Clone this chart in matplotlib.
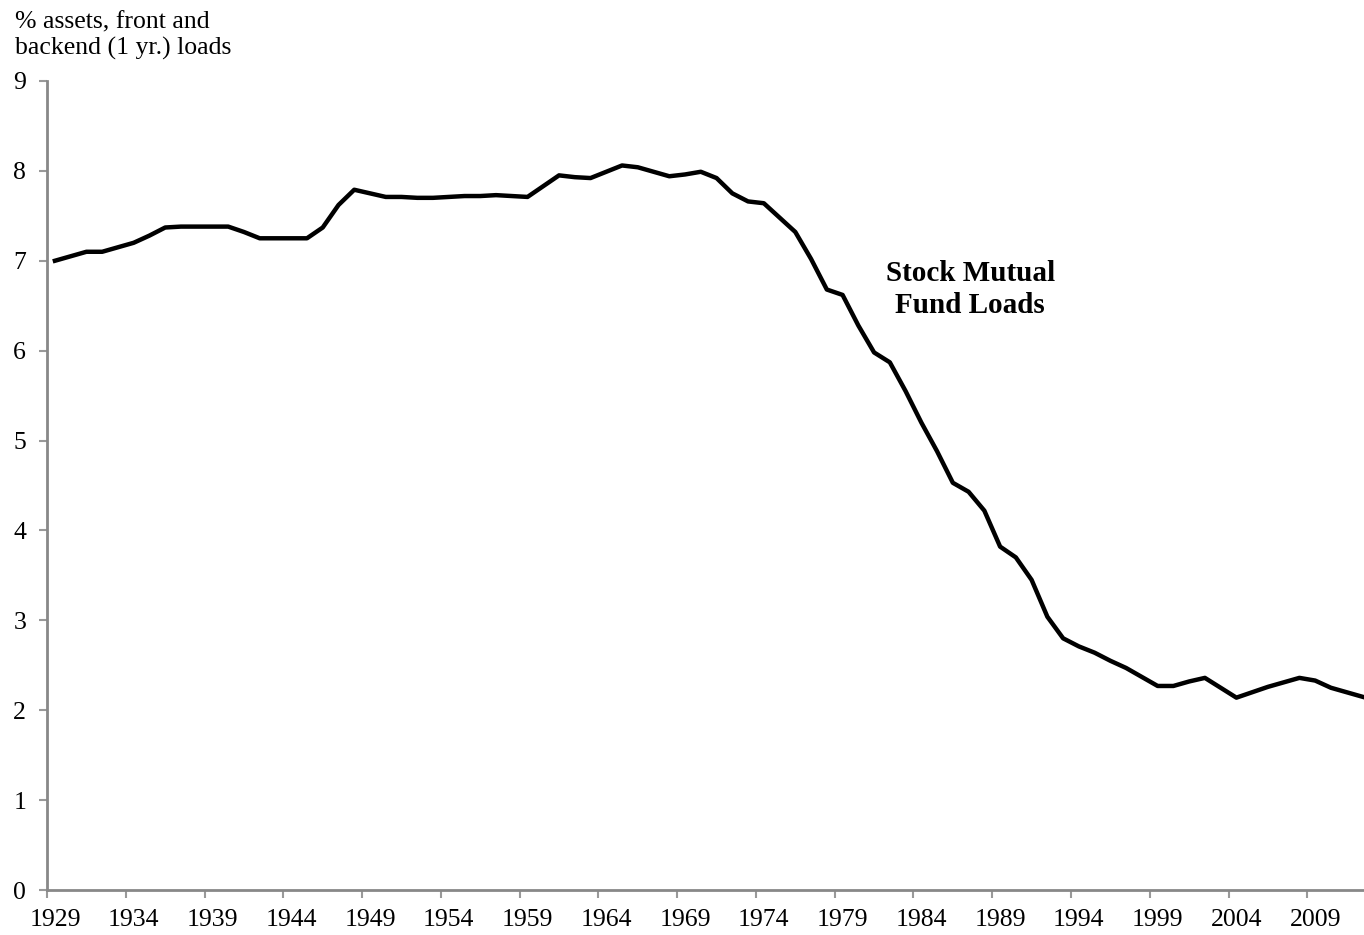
import matplotlib.pyplot as plt
import numpy as np

plt.rcParams["font.family"] = ["Liberation Serif", "DejaVu Serif"]

years = np.arange(1929, 2013)
loads = [
    7.00, 7.05, 7.10, 7.10, 7.15, 7.20, 7.28, 7.37, 7.38, 7.38,  # 1929-1938
    7.38, 7.38, 7.32, 7.25, 7.25, 7.25, 7.25, 7.37, 7.62, 7.79,  # 1939-1948
    7.75, 7.71, 7.71, 7.70, 7.70, 7.71, 7.72, 7.72, 7.73, 7.72,  # 1949-1958
    7.71, 7.83, 7.95, 7.93, 7.92, 7.99, 8.06, 8.04, 7.99, 7.94,  # 1959-1968
    7.96, 7.99, 7.92, 7.75, 7.66, 7.64, 7.48, 7.32, 7.02, 6.68,  # 1969-1978
    6.62, 6.28, 5.98, 5.87, 5.55, 5.20, 4.88, 4.53, 4.43, 4.22,  # 1979-1988
    3.82, 3.70, 3.45, 3.04, 2.80, 2.71, 2.64, 2.55, 2.47, 2.37,  # 1989-1998
    2.27, 2.27, 2.32, 2.36, 2.25, 2.14, 2.20, 2.26, 2.31, 2.36,  # 1999-2008
    2.33, 2.25, 2.20, 2.15,                                      # 2009-2012
]
tick_years = np.arange(1929, 2013, 5)
y_ticks = np.arange(0, 10)

fig = plt.figure(figsize=(13.64, 9.35), dpi=100)
ax = fig.add_axes([0.0345, 0.0481, 0.9655, 0.8653])

ax.plot(years, loads, color="black", linewidth=3.2, solid_joinstyle="round")

ax.set_xlim(1928.5, 2012.1)
ax.set_ylim(0, 9)

# category-style axis: tick marks between years, labels under the year
ax.set_xticks(tick_years - 0.5)
ax.set_xticklabels([])
ax.set_xticks(tick_years, minor=True)
ax.set_xticklabels([str(y) for y in tick_years], minor=True, fontsize=18.5)
ax.tick_params(axis="x", which="major", length=6, width=1.5, color="#999999")
ax.tick_params(axis="x", which="minor", length=0, pad=14)

ax.set_yticks(y_ticks)
ax.set_yticklabels([str(v) for v in y_ticks], fontsize=18.5)
ax.tick_params(axis="y", length=6, width=1.5, color="#999999", pad=9)

for side in ["top", "right"]:
    ax.spines[side].set_visible(False)
for side in ["left", "bottom"]:
    ax.spines[side].set_color("#888888")
    ax.spines[side].set_linewidth(2)

fig.text(0.011, 0.988, "% assets, front and\nbackend (1 yr.) loads",
         fontsize=18.5, va="top", ha="left", linespacing=1.2)

ax.text(1987.1, 6.68, "Stock Mutual\nFund Loads", fontsize=21, fontweight="bold",
        ha="center", va="center", linespacing=1.25)

fig.savefig("out.png", dpi=100)
